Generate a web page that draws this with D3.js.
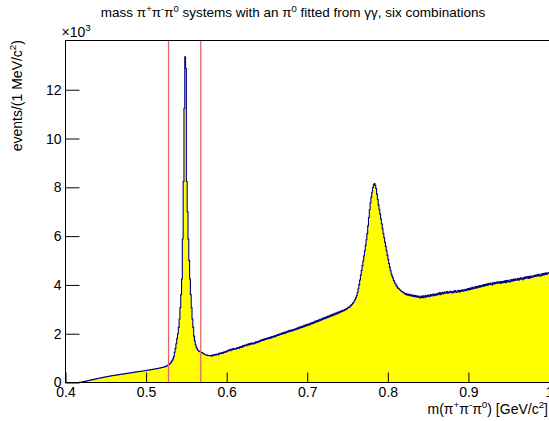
<!DOCTYPE html>
<html><head><meta charset="utf-8">
<script src="https://cdn.jsdelivr.net/npm/d3@7"></script>
<style>
body{margin:0;background:#fff}
svg{display:block;font-family:"Liberation Sans",Arial,Helvetica,sans-serif}
</style>
</head><body>
<svg id="c" width="549" height="421"></svg>
<script>
// ---- data: events per 1 MeV bin, m(pi+ pi- pi0) from 0.400 to 1.000 GeV ----
const binStart = 0.4;
const binWidth = 0.001;
const counts = [
0,0,0,0,0,0,0,0,0,0,0,0,0,0,0,1,3,6,9,13,
18,24,31,39,47,55,63,71,79,87,95,102,109,116,123,130,137,144,151,158,
165,172,179,186,193,200,207,214,221,228,235,241,247,253,259,265,271,277,283,289,
294,299,304,309,314,319,324,329,334,339,344,349,354,359,364,369,374,379,384,389,
394,399,404,409,414,419,424,429,434,439,444,449,454,459,464,469,474,479,484,489,
494,499,504,510,516,522,528,534,540,546,552,558,564,570,576,583,590,597,604,612,
620,628,638,650,662,676,692,712,736,764,800,845,900,970,1060,1240,1400,1590,1800,2000,
2260,2600,3070,3600,4240,5880,8240,11240,13350,12870,8240,7000,5880,5000,4240,3600,3070,2600,2260,1900,
1700,1550,1450,1380,1320,1290,1270,1250,1240,1230,1200,1180,1160,1140,1130,1120,1110,1105,1100,1095,
1085,1112,1090,1131,1118,1142,1120,1165,1150,1138,1192,1170,1210,1188,1225,1204,1252,1230,1268,1249,
1302,1280,1325,1340,1308,1362,1331,1378,1350,1395,1372,1360,1418,1392,1430,1405,1462,1438,1475,1450,
1515,1488,1540,1522,1505,1565,1540,1583,1550,1605,1572,1618,1595,1580,1640,1612,1665,1630,1682,1650,
1710,1685,1738,1715,1760,1728,1778,1750,1802,1770,1822,1795,1840,1808,1865,1830,1882,1855,1905,1872,
1925,1898,1950,1932,1978,1945,2000,1968,2022,1990,2045,2012,2070,2035,2092,2058,2115,2080,2138,2100,
2150,2118,2172,2140,2195,2168,2220,2185,2245,2210,2268,2232,2290,2255,2318,2280,2342,2305,2365,2330,
2385,2350,2410,2372,2438,2400,2462,2425,2490,2452,2515,2478,2542,2505,2568,2530,2595,2558,2620,2585,
2650,2612,2675,2640,2702,2665,2728,2690,2755,2718,2780,2742,2808,2770,2835,2795,2860,2822,2888,2850,
2905,2878,2935,2915,2962,2940,2995,2975,3030,3012,3065,3090,3080,3130,3160,3200,3245,3290,3340,3400,
3480,3560,3690,3840,4010,4200,4400,4590,4780,4980,5190,5400,5620,5850,6100,6420,6760,7080,7360,7600,
7800,7990,8100,8150,8080,7950,7720,7500,7280,7100,6900,6700,6500,6300,6110,5930,5750,5580,5400,5220,
5050,4880,4720,4580,4450,4360,4270,4180,4100,4040,3990,3930,3880,3850,3810,3790,3750,3730,3710,3690,
3665,3620,3648,3590,3630,3575,3612,3560,3598,3545,3580,3532,3575,3520,3560,3505,3548,3495,3540,3488,
3470,3535,3490,3552,3480,3520,3565,3500,3548,3585,3515,3570,3540,3602,3552,3590,3625,3560,3612,3580,
3635,3590,3660,3618,3685,3602,3650,3695,3630,3672,3710,3645,3690,3728,3662,3705,3680,3742,3690,3720,
3675,3740,3700,3765,3712,3690,3758,3725,3780,3708,3770,3745,3800,3738,3792,3760,3825,3770,3808,3850,
3790,3858,3815,3880,3835,3900,3842,3872,3920,3865,3935,3890,3950,3905,3972,3918,3960,3995,3935,4010,
3968,4025,3980,4048,3992,4060,4018,4072,4030,3995,4085,4040,4098,4052,4110,4065,4125,4070,4105,4140,
4060,4135,4090,4150,4105,4168,4095,4180,4125,4192,4140,4118,4205,4155,4220,4165,4232,4180,4248,4195,
4210,4262,4188,4275,4230,4292,4245,4218,4305,4258,4318,4270,4332,4285,4345,4260,4352,4300,4365,4315,
4330,4385,4342,4402,4355,4418,4370,4432,4385,4360,4448,4398,4462,4410,4480,4425,4495,4440,4470,4510
];
const cutLines = [0.52785, 0.56785];
const xTickValues = [0.4, 0.5, 0.6, 0.7, 0.8, 0.9, 1.0];
const xTickLabels = ["0.4", "0.5", "0.6", "0.7", "0.8", "0.9", "1"];
const yTickValues = [0, 2000, 4000, 6000, 8000, 10000, 12000];
const yTickLabels = ["0", "2", "4", "6", "8", "10", "12"];

// ---- layout ----
const frame = {left: 65.5, right: 549, top: 40.5, bottom: 382.5};
const svg = d3.select("#c");

const bins = counts.map((c, i) => ({x0: binStart + i * binWidth, v: c}));
const xMin = binStart, xMax = binStart + counts.length * binWidth;
const x = d3.scaleLinear().domain([xMin, xMax]).range([frame.left, frame.right]);
const y = d3.scaleLinear().domain([0, d3.max(counts) * 1.05]).range([frame.bottom, frame.top]);

svg.append("clipPath").attr("id", "fr").append("rect")
  .attr("x", frame.left).attr("y", frame.top)
  .attr("width", frame.right - frame.left).attr("height", frame.bottom - frame.top);

// histogram fill + outline (step)
const pts = bins.map(b => [b.x0, b.v]);
pts.push([xMax, counts[counts.length - 1]]);
const g = svg.append("g").attr("clip-path", "url(#fr)");
g.append("path")
  .attr("d", d3.area().curve(d3.curveStepAfter).x(d => x(d[0])).y0(y(0)).y1(d => y(d[1]))(pts))
  .attr("fill", "#ffff00").attr("stroke", "none");
g.append("path")
  .attr("d", d3.line().curve(d3.curveStepAfter).x(d => x(d[0])).y(d => y(d[1]))(pts))
  .attr("fill", "none").attr("stroke", "#00008b").attr("stroke-width", 1.1);

// cut lines
g.selectAll("line.cut").data(cutLines).enter().append("line")
  .attr("class", "cut")
  .attr("x1", d => x(d)).attr("x2", d => x(d))
  .attr("y1", frame.top).attr("y2", frame.bottom)
  .attr("stroke", "#e4676a").attr("stroke-width", 1.3);

// frame
svg.append("rect")
  .attr("x", frame.left).attr("y", frame.top)
  .attr("width", frame.right - frame.left + 2).attr("height", frame.bottom - frame.top)
  .attr("fill", "none").attr("stroke", "#000").attr("stroke-width", 1);

// x axis
const xMinor = d3.range(0, 31).map(i => xMin + i * 0.02);
const xAx = svg.append("g").attr("transform", `translate(0,${frame.bottom})`);
xAx.call(d3.axisBottom(x).tickValues(xMinor).tickSizeInner(-5).tickSizeOuter(0).tickFormat(""));
xAx.call(d3.axisBottom(x).tickValues(xTickValues).tickSizeInner(-10).tickSizeOuter(0).tickPadding(5)
  .tickFormat((d, i) => xTickLabels[i]));
xAx.selectAll(".domain").remove();
xAx.selectAll("line").attr("stroke", "#000");
xAx.selectAll("text").attr("font-size", 14).attr("fill", "#000").attr("font-family", null);

// y axis
const yMinor = d3.range(0, 28).map(i => i * 500);
const yAx = svg.append("g").attr("transform", `translate(${frame.left},0)`);
yAx.call(d3.axisLeft(y).tickValues(yMinor).tickSizeInner(-7).tickSizeOuter(0).tickFormat(""));
yAx.call(d3.axisLeft(y).tickValues(yTickValues).tickSizeInner(-14).tickSizeOuter(0).tickPadding(4)
  .tickFormat((d, i) => yTickLabels[i]));
yAx.selectAll(".domain").remove();
yAx.selectAll("line").attr("stroke", "#000");
yAx.selectAll("text").attr("font-size", 14).attr("fill", "#000").attr("font-family", null);

// rich text helper
function rich(sel, parts, size) {
  parts.forEach(p => {
    const t = sel.append("tspan").text(p[0]);
    if (p[1] === "sup") t.attr("dy", -size * 0.4).attr("font-size", size * 0.7);
    if (p[1] === "back") t.attr("dy", size * 0.4);
  });
}

// exponent
const ex = svg.append("text").attr("x", frame.left - 4).attr("y", 37).attr("font-size", 14);
rich(ex, [["\u00d710"], ["3", "sup"]], 14);

// title
const tt = svg.append("text").attr("x", 293).attr("y", 17).attr("font-size", 13.5).attr("text-anchor", "middle");
rich(tt, [["mass  \u03c0"], ["+", "sup"], ["\u03c0", "back"], ["-", "sup"], ["\u03c0", "back"], ["0", "sup"],
  [" systems with an \u03c0", "back"], ["0", "sup"], [" fitted from \u03b3\u03b3, six combinations", "back"]], 13.5);

// x title
const xt = svg.append("text").attr("x", 548).attr("y", 414).attr("font-size", 14).attr("text-anchor", "end");
rich(xt, [["m(\u03c0"], ["+", "sup"], ["\u03c0", "back"], ["-", "sup"], ["\u03c0", "back"], ["0", "sup"],
  [") [GeV/c", "back"], ["2", "sup"], ["]", "back"]], 14);

// y title
const yt = svg.append("text").attr("transform", "translate(22,40) rotate(-90)").attr("font-size", 14).attr("text-anchor", "end");
rich(yt, [["events/(1 MeV/c"], ["2", "sup"], [")", "back"]], 14);
</script>
</body></html>
